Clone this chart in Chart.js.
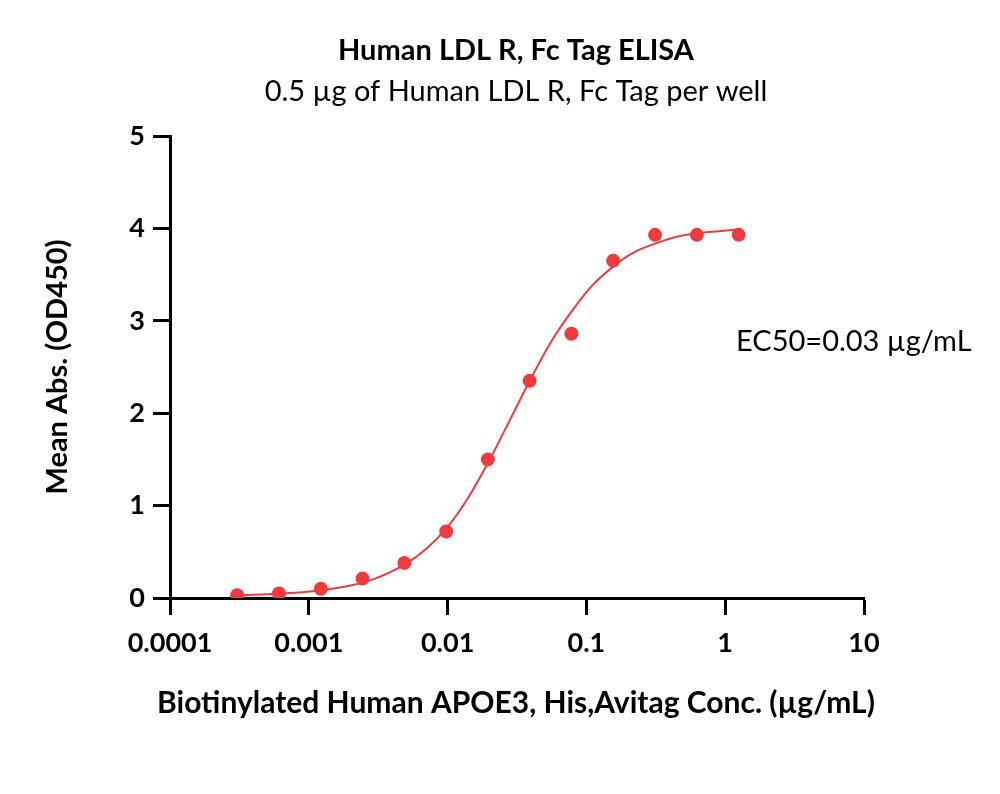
<!DOCTYPE html>
<html>
<head>
<meta charset="utf-8">
<script src="https://cdn.jsdelivr.net/npm/chart.js@4.4.1/dist/chart.umd.min.js"></script>
<style>
  html, body { margin: 0; padding: 0; background: #fff; }
  #wrap { width: 1000px; height: 794px; position: relative; }
</style>
</head>
<body>
<div id="wrap"><canvas id="elisa"></canvas></div>
<script>
// measured points (conc in ug/mL, OD450)
const conc = [0.000305, 0.00061, 0.00122, 0.00244, 0.00488, 0.00977, 0.0195, 0.039, 0.078, 0.156, 0.3125, 0.625, 1.25];
const meanAbs = [0.03, 0.05, 0.10, 0.21, 0.38, 0.72, 1.50, 2.35, 2.86, 3.65, 3.93, 3.93, 3.93];

// fitted curve
const fitConc = [0.000305, 0.0005, 0.0008, 0.0012, 0.002, 0.003, 0.005, 0.007, 0.01, 0.014, 0.02, 0.028, 0.04, 0.055, 0.08, 0.11, 0.16, 0.22, 0.32, 0.45, 0.65, 0.9, 1.25];
const fitAbs = [0.03, 0.04, 0.056, 0.08, 0.135, 0.21, 0.37, 0.53, 0.77, 1.08, 1.49, 1.92, 2.38, 2.76, 3.12, 3.38, 3.60, 3.74, 3.84, 3.91, 3.95, 3.97, 3.99];

const xTicks = [0.0001, 0.001, 0.01, 0.1, 1, 10];
const xTickLabels = ['0.0001', '0.001', '0.01', '0.1', '1', '10'];
const yTicks = [0, 1, 2, 3, 4, 5];

const titleText = 'Human LDL R, Fc Tag ELISA';
const subtitleText = '0.5 µg of Human LDL R, Fc Tag per well';
const xTitleText = 'Biotinylated Human APOE3, His,Avitag Conc. (µg/mL)';
const noteText = 'EC50=0.03 µg/mL';

const red = '#ef3b3d';
const fontFamily = 'Lato, "Open Sans", sans-serif';

// title, subtitle, x title and the EC50 note are drawn by hand:
// the built-in ones get centred on the layout box or squeezed to the axis width
const headerAndNote = {
    id: 'headerAndNote',
    afterDraw(chart) {
        const ctx = chart.ctx;
        ctx.save();
        ctx.fillStyle = '#000';
        ctx.textBaseline = 'middle';
        ctx.textAlign = 'center';
        ctx.font = 'bold 29px ' + fontFamily;
        ctx.fillText(titleText, 516, 51);
        ctx.font = 'bold 30px ' + fontFamily;
        ctx.fillText(xTitleText, 516, 703);
        ctx.font = '29px ' + fontFamily;
        ctx.fillText(subtitleText, 516, 92);
        ctx.textAlign = 'left';
        ctx.fillText(noteText, 736, 342);
        ctx.restore();
    }
};

const ctx = document.getElementById('elisa').getContext('2d');
new Chart(ctx, {
    type: 'scatter',
    data: {
        datasets: [
            {
                label: 'fit',
                data: fitConc.map((x, i) => ({ x: x, y: fitAbs[i] })),
                showLine: true,
                borderColor: red,
                borderWidth: 2,
                pointRadius: 0,
                cubicInterpolationMode: 'monotone',
                order: 2
            },
            {
                label: 'Mean Abs.',
                data: conc.map((x, i) => ({ x: x, y: meanAbs[i] })),
                showLine: false,
                backgroundColor: red,
                borderColor: red,
                pointRadius: 7,
                pointBorderWidth: 0,
                order: 1
            }
        ]
    },
    options: {
        responsive: true,
        maintainAspectRatio: false,
        animation: false,
        layout: { padding: { top: 136, right: 136, bottom: 0, left: 0 } },
        plugins: {
            legend: { display: false },
            tooltip: { enabled: false },
            title: { display: false }
        },
        scales: {
            x: {
                type: 'logarithmic',
                min: 0.0001,
                max: 10,
                afterBuildTicks: (axis) => { axis.ticks = xTicks.map(v => ({ value: v })); },
                afterFit: (scale) => { scale.height = 196; },
                border: { display: true, color: '#000', width: 3 },
                grid: { display: true, drawOnChartArea: false, drawTicks: true, tickLength: 17, tickWidth: 3, tickColor: '#000' },
                ticks: {
                    color: '#000',
                    padding: 12,
                    maxRotation: 0,
                    autoSkip: false,
                    font: { family: fontFamily, size: 27, weight: 'bold' },
                    callback: (value) => {
                        const i = xTicks.indexOf(value);
                        return i >= 0 ? xTickLabels[i] : '';
                    }
                },
                title: { display: false }
            },
            y: {
                type: 'linear',
                min: 0,
                max: 5,
                afterBuildTicks: (axis) => { axis.ticks = yTicks.map(v => ({ value: v })); },
                afterFit: (scale) => { scale.width = 170; },
                border: { display: true, color: '#000', width: 3 },
                grid: { display: true, drawOnChartArea: false, drawTicks: true, tickLength: 17, tickWidth: 3, tickColor: '#000' },
                ticks: {
                    color: '#000',
                    padding: 8,
                    font: { family: fontFamily, size: 27, weight: 'bold' }
                },
                title: {
                    display: true,
                    text: 'Mean Abs. (OD450)',
                    color: '#000',
                    font: { family: fontFamily, size: 29, weight: 'bold', lineHeight: 1.2 },
                    padding: { top: 40, bottom: 0 }
                }
            }
        }
    },
    plugins: [headerAndNote]
});
</script>
</body>
</html>
